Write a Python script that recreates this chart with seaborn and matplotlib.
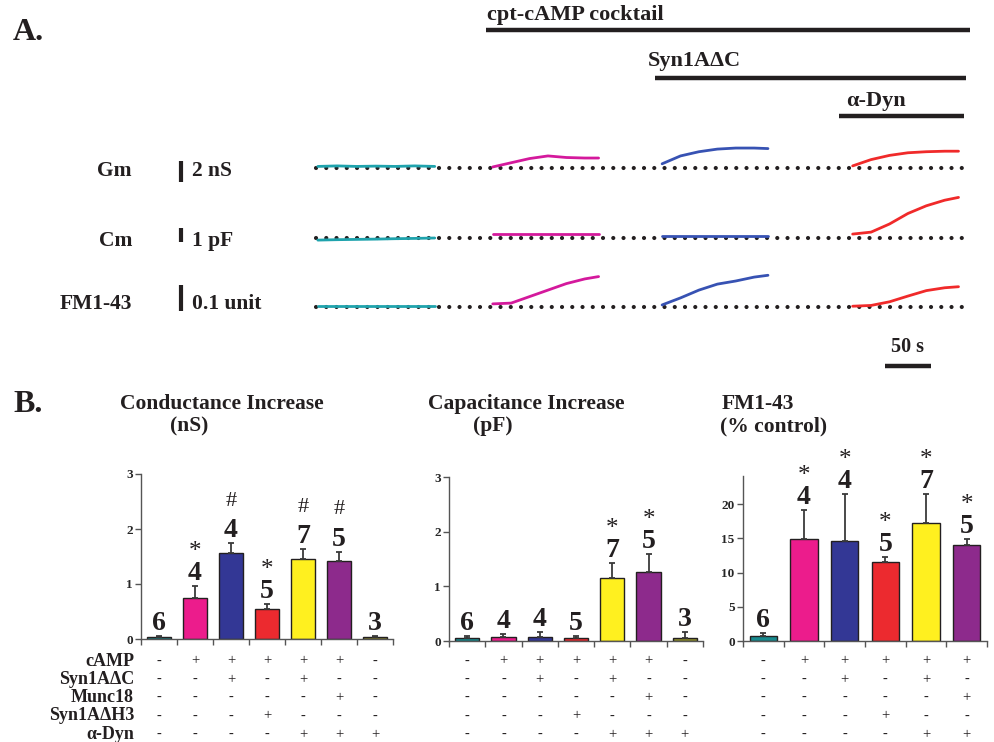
import numpy as np
import pandas as pd
import matplotlib
matplotlib.use('Agg')
import matplotlib.pyplot as plt
import matplotlib.transforms as mtrans
import seaborn as sns

# ---------------- data ----------------
# panel A: traces, time (s) inside each recording segment
seg_t = [0, 20, 40, 60, 80, 100, 115]
ctrl_t = [0, 21, 42, 63, 84, 105, 127]
seg_start = [2, 192, 376, 583]        # control, cAMP, +Syn1AdC, +a-Dyn
trace_colors = ['#1fa3ad', '#d4199c', '#3752b3', '#f02a2a']

gm_traces = [
    [0.15, 0.2, 0.15, 0.18, 0.15, 0.2, 0.15],
    [0.1, 0.5, 0.9, 1.15, 1.0, 0.95, 0.95],
    [0.4, 1.15, 1.55, 1.8, 1.9, 1.9, 1.85],
    [0.2, 0.8, 1.2, 1.45, 1.55, 1.6, 1.6],
]
cm_traces = [
    [-0.15, -0.12, -0.1, -0.08, -0.05, -0.03, 0.0],
    [0.25, 0.25, 0.25, 0.25, 0.25, 0.25, 0.25],
    [0.15, 0.15, 0.15, 0.15, 0.15, 0.15, 0.15],
    [0.28, 0.42, 1.0, 1.75, 2.3, 2.7, 2.9],
]
fm_traces = [
    [0.004, 0.004, 0.004, 0.004, 0.004, 0.004, 0.004],
    [0.012, 0.015, 0.04, 0.065, 0.09, 0.108, 0.117],
    [0.008, 0.035, 0.065, 0.088, 0.1, 0.115, 0.122],
    [0.003, 0.006, 0.02, 0.042, 0.063, 0.074, 0.078],
]

# protocol bars (s)
protocols = ['cpt-cAMP cocktail', 'Syn1AΔC', 'α-Dyn']
protocol_on = [185, 368, 568]
protocol_off = [710, 706, 704]

# panel B
bar_colors = ['#178a8e', '#ec1c8c', '#333795', '#ec2a2f', '#fff01f', '#8d2a8c', '#8e8e2c']

gm_mean = [0.03, 0.74, 1.56, 0.54, 1.46, 1.42, 0.04]
gm_err = [0.02, 0.23, 0.18, 0.09, 0.17, 0.17, 0.01]
gm_n = [6, 4, 4, 5, 7, 5, 3]
gm_sig = ['', '*', '#', '*', '#', '#', '']

cm_mean = [0.06, 0.08, 0.08, 0.06, 1.16, 1.27, 0.06]
cm_err = [0.03, 0.05, 0.09, 0.04, 0.27, 0.32, 0.1]
cm_n = [6, 4, 4, 5, 7, 5, 3]
cm_sig = ['', '', '', '', '*', '*', '']

fm_mean = [0.73, 14.85, 14.55, 11.53, 17.3, 13.97]
fm_err = [0.47, 4.25, 6.95, 0.77, 4.1, 0.93]
fm_n = [6, 4, 4, 5, 7, 5]
fm_sig = ['', '*', '*', '*', '*', '*']

row_names = ['cAMP', 'Syn1AΔC', 'Munc18', 'Syn1AΔH3', 'α-Dyn']
camp = ['-', '+', '+', '+', '+', '+', '-']
syn_dc = ['-', '-', '+', '-', '+', '-', '-']
munc18 = ['-', '-', '-', '-', '-', '+', '-']
syn_dh3 = ['-', '-', '-', '+', '-', '-', '-']
adyn = ['-', '-', '-', '-', '+', '+', '+']

# ---------------- figure ----------------
sns.set_style('ticks')
plt.rcParams['font.family'] = ['Liberation Serif', 'DejaVu Serif']

W, H = 995, 742
fig = plt.figure(figsize=(W / 100, H / 100), dpi=100)


def fx(px):
    return px / W


def fy(py):
    return 1 - py / H


def px_axes(left, top, right, bottom):
    return fig.add_axes([fx(left), fy(bottom), (right - left) / W, (bottom - top) / H])


bold = dict(fontweight='bold', color='#231f20')

# ---- panel A
fig.text(fx(13), fy(32), 'A.', fontsize=23, va='center', **bold)

rows = [
    ('Gm', '2 nS', 2, gm_traces, 168, 10.5, 14),
    ('Cm', '1 pF', 1, cm_traces, 238, 14.0, 4),
    ('FM1-43', '0.1 unit', 0.1, fm_traces, 307, 260.0, 4),
]
t_axes = []
for name, sc_txt, sc_val, traces, base, ppu, bar_below in rows:
    ax = px_axes(316, base - 45, 976, base + 20)
    ax.set_xlim(0, 717)
    ax.set_ylim(-20 / ppu, 45 / ppu)
    ax.axis('off')
    # dotted baseline
    ax.plot([0, 702], [0, 0], color='#231f20', lw=3.0, ls=(0, (0.01, 2.45)),
            dash_capstyle='round', clip_on=False, zorder=1)
    for i, tr in enumerate(traces):
        tt = ctrl_t if i == 0 else seg_t
        sns.lineplot(x=[seg_start[i] + v for v in tt], y=tr, color=trace_colors[i],
                     lw=2.0, ax=ax, sort=False, estimator=None, zorder=2)
    # scale bar
    tr_blend = mtrans.blended_transform_factory(fig.transFigure, ax.transData)
    lo = -bar_below / ppu
    ax.plot([fx(181), fx(181)], [lo, lo + sc_val], color='#231f20', lw=3,
            transform=tr_blend, clip_on=False, solid_capstyle='butt')
    ty = base + 3 if name != 'FM1-43' else base - 3
    fig.text(fx(132), fy(ty), name, fontsize=15.5, ha='right', va='center', **bold)
    fig.text(fx(192), fy(ty), sc_txt, fontsize=15.5, ha='left', va='center', **bold)
    t_axes.append(ax)

ax_top = t_axes[0]
tb = mtrans.blended_transform_factory(ax_top.transData, fig.transFigure)
for lab, on, off, ypx, typx, tx in zip(protocols, protocol_on, protocol_off,
                                       [30, 78, 116], [15, 61, 101], [487, 648, 846]):
    ax_top.plot([on, off], [fy(ypx), fy(ypx)], color='#231f20', lw=3.2,
                transform=tb, clip_on=False, solid_capstyle='butt')
    fig.text(fx(tx), fy(typx), lab, fontsize=16, ha='left', va='center', **bold)

# 50 s scale bar
ax_fm = t_axes[2]
tb2 = mtrans.blended_transform_factory(ax_fm.transData, fig.transFigure)
ax_fm.plot([618, 668], [fy(366), fy(366)], color='#231f20', lw=3.2,
           transform=tb2, clip_on=False, solid_capstyle='butt')
fig.text(fx(908), fy(347), '50 s', fontsize=14.5, ha='center', va='center', **bold)

# ---- panel B
fig.text(fx(13), fy(404), 'B.', fontsize=23, va='center', **bold)
titles = [('Conductance Increase', '(nS)', 120, 170),
          ('Capacitance Increase', '(pF)', 428, 473),
          ('FM1-43', '(% control)', 722, 720)]
for t1, t2, x1, x2 in titles:
    fig.text(fx(x1), fy(404), t1, fontsize=15.5, ha='left', va='center', **bold)
    fig.text(fx(x2), fy(426), t2, fontsize=15.5, ha='left', va='center', **bold)


def bar_panel(ax, vals, errs, ns, sig, ymax, yticks):
    k = len(vals)
    df = pd.DataFrame({'cond': [str(i) for i in range(k)], 'val': vals})
    sns.barplot(data=df, x='cond', y='val', hue='cond', palette=bar_colors[:k],
                legend=False, width=0.67, edgecolor='#231f20', linewidth=1,
                saturation=1, ax=ax)
    x = np.arange(k)
    ax.errorbar(x, vals, yerr=[np.zeros(k), errs], fmt='none', ecolor='#3a3a3a',
                elinewidth=1.3, capsize=2.5, capthick=1.3, zorder=3)
    for i in range(k):
        top = vals[i] + errs[i]
        ax.annotate(str(ns[i]), (i, top), xytext=(0, 9), textcoords='offset points',
                    ha='center', va='center', fontsize=20, annotation_clip=False, **bold)
        if sig[i] == '*':
            ax.annotate('*', (i, top), xytext=(0, 24.5), textcoords='offset points',
                        ha='center', va='center', fontsize=18, color='#231f20',
                        annotation_clip=False)
        elif sig[i] == '#':
            ax.annotate('#', (i, top), xytext=(0, 30), textcoords='offset points',
                        ha='center', va='center', fontsize=16, color='#231f20',
                        annotation_clip=False)
    ax.set_xlim(-0.5, k - 0.5)
    ax.set_ylim(0, ymax)
    ax.set_yticks(yticks)
    ax.set_yticklabels([str(v) for v in yticks], fontsize=9.5, fontweight='bold')
    ax.set_xticks([])
    ax.set_xticks(np.arange(-0.5, k), minor=True)
    ax.tick_params(axis='x', which='minor', length=4, width=1, color='#555555')
    ax.tick_params(axis='y', length=4, width=1, color='#555555', pad=2)
    ax.set_xlabel('')
    ax.set_ylabel('')
    sns.despine(ax=ax)
    for s in ['left', 'bottom']:
        ax.spines[s].set_color('#555555')
        ax.spines[s].set_linewidth(1)
    # treatment table
    tt = mtrans.blended_transform_factory(ax.transData, fig.transFigure)
    for r, signs in enumerate([camp, syn_dc, munc18, syn_dh3, adyn]):
        for i in range(k):
            ax.text(i, fy(661 + r * 18.3), signs[i], transform=tt, ha='center',
                    va='center', fontsize=10.5, color='#231f20')


ax1 = px_axes(141, 474, 393, 639)
bar_panel(ax1, gm_mean, gm_err, gm_n, gm_sig, 3, [0, 1, 2, 3])
ax2 = px_axes(449, 477, 703, 641)
bar_panel(ax2, cm_mean, cm_err, cm_n, cm_sig, 3, [0, 1, 2, 3])
ax3 = px_axes(743, 476, 987, 641)
bar_panel(ax3, fm_mean, fm_err, fm_n, fm_sig, 24.1, [0, 5, 10, 15, 20])

for r, name in enumerate(row_names):
    fig.text(fx(134), fy(661 + r * 18.3), name, fontsize=13, ha='right',
             va='center', **bold)

fig.savefig('out.png', dpi=100)
